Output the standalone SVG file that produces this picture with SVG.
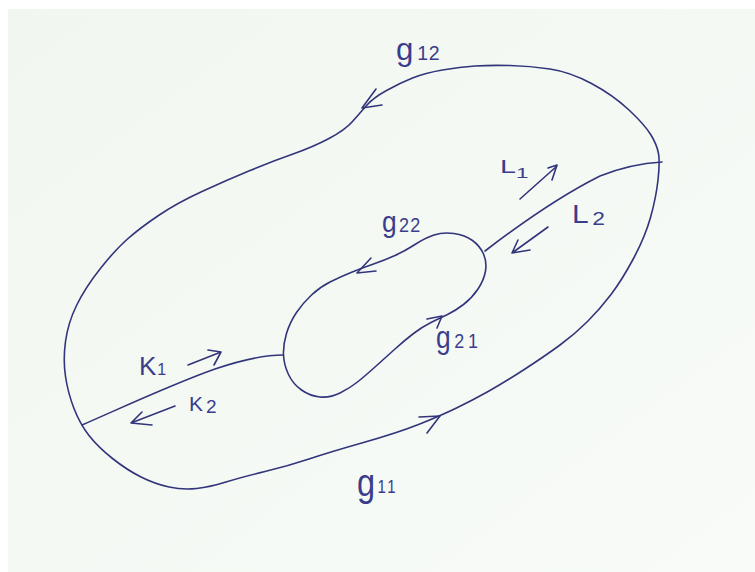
<svg xmlns="http://www.w3.org/2000/svg" width="755" height="572" viewBox="0 0 755 572">
<style>
.ink{fill:none;stroke:#32357a;stroke-width:1.6;stroke-linecap:round;stroke-linejoin:round}
.lbl{font-family:"Liberation Sans","DejaVu Sans",sans-serif;fill:#3a3d8c}
</style>
<defs>
<linearGradient id="paper" x1="0" y1="0" x2="1" y2="1">
<stop offset="0" stop-color="#f1f7f0"/>
<stop offset="1" stop-color="#f8fbf8"/>
</linearGradient>
</defs>
<rect x="0" y="0" width="755" height="572" fill="#ffffff"/>
<rect x="8" y="9" width="747" height="563" fill="url(#paper)"/>
<g id="outer-boundary">
<path class="ink" d="M658,180 Q656,198 650.5,217.5 Q645,237 633.5,258.5 Q622,280 611,294.5 Q600,309 587.5,321.5 Q575,334 560,345 Q545,356 525,369 Q505,382 489,391 Q473,400 456.5,408 Q440,416 418.5,424.5 Q397,433 363.5,442.5 Q330,452 309,459 Q288,466 265,471.5 Q242,477 226,482 Q210,487 196.5,488.5 Q183,490 169,487 Q155,484 141,477 Q127,470 112.5,458.5 Q98,447 89,435.5 Q80,424 74,408.5 Q68,393 65.5,376.5 Q63,360 65.5,341.5 Q68,323 76.5,305.5 Q85,288 100,269 Q115,250 127.5,239 Q140,228 158.5,215.5 Q177,203 202,191.5 Q227,180 250,170.5 Q273,161 293,154 Q313,147 329,138.5 Q345,130 352.5,121.5 Q360,113 366.5,105.5 Q373,98 386.5,90.5 Q400,83 412.5,78 Q425,73 442.5,70 Q460,67 475,66 Q490,65 510,65.5 Q530,66 550,69 Q570,72 591.5,83.5 Q613,95 629,110 Q645,125 651,135 Q657,145 658.5,153.5 Q660,162 658,180 Z"/>
</g>
<g id="inner-boundary">
<path class="ink" d="M454,233.5 Q465,235 472.5,240.5 Q480,246 483.5,254 Q487,262 485.5,271 Q484,280 478,289 Q472,298 463.5,304.5 Q455,311 447.5,314.5 Q440,318 431,322.5 Q422,327 413.5,333.5 Q405,340 395,349 Q385,358 375,367 Q365,376 357.5,382 Q350,388 340,393 Q330,398 320,397 Q310,396 301.5,390 Q293,384 288.5,374.5 Q284,365 283.5,355 Q283,345 286.5,333.5 Q290,322 296.5,312.5 Q303,303 311.5,295 Q320,287 330,282 Q340,277 351,272.5 Q362,268 373.5,264 Q385,260 395,255.5 Q405,251 415,244.5 Q425,238 434,235 Q443,232 454,233.5 Z"/>
</g>
<g id="connectors">
<path id="cut-L" class="ink" d="M485,251 C515,228 560,196 600,176 C625,166 645,163 662,162"/>
<path id="cut-K" class="ink" d="M82,425 C130,404 175,383 215,369 C245,359 265,355 283,355"/>
<path id="arrow-g12" class="ink" d="M376,89 L362,108 L382,105"/>
<path id="arrow-g22" class="ink" d="M371,258 L357,273 L376,271"/>
<path id="arrow-g21" class="ink" d="M427,319 L442,316 L437,328"/>
<path id="arrow-g11" class="ink" d="M419,417 L440,416 L427,433"/>
<path id="arrow-L1" class="ink" d="M520,199 L557,166 M548,168 L557,165 L552,180"/>
<path id="arrow-L2" class="ink" d="M548,227 L512,253 M518,240 L512,253 L530,250"/>
<path id="arrow-K1" class="ink" d="M188,365 L221,352 M208,350 L221,352 L214,365"/>
<path id="arrow-K2" class="ink" d="M175,406 L131,423 M142,412 L131,423 L152,425"/>
</g>
<g id="labels">
<text id="lbl-g12" class="lbl" transform="translate(396,60) scale(1.3,1.3)" font-size="24">g<tspan font-size="15" dx="3" letter-spacing="0.5">12</tspan></text>
<text id="lbl-L1" class="lbl" transform="translate(500,173) scale(1.6,1)" font-size="18">L<tspan font-size="14" dx="0" dy="5">1</tspan></text>
<text id="lbl-L2" class="lbl" transform="translate(572,223) scale(1.2,1)" font-size="25">L<tspan font-size="19" dx="3" dy="2">2</tspan></text>
<text id="lbl-g22" class="lbl" transform="translate(382,232) scale(1.2,1.35)" font-size="22">g<tspan font-size="15" dx="2" letter-spacing="1">22</tspan></text>
<text id="lbl-g21" class="lbl" transform="translate(436,348) scale(1.2,1.4)" font-size="22">g<tspan font-size="15" dx="3" letter-spacing="3">21</tspan></text>
<text id="lbl-K1" class="lbl" x="139" y="375" font-size="26">K<tspan font-size="16" dx="1">1</tspan></text>
<text id="lbl-K2" class="lbl" x="189" y="411" font-size="21">K<tspan font-size="19" dx="3" dy="2">2</tspan></text>
<text id="lbl-g11" class="lbl" transform="translate(357,496) scale(1.25,1.5)" font-size="26">g<tspan font-size="12" dx="2" dy="-2" letter-spacing="2">11</tspan></text>
</g>
</svg>
